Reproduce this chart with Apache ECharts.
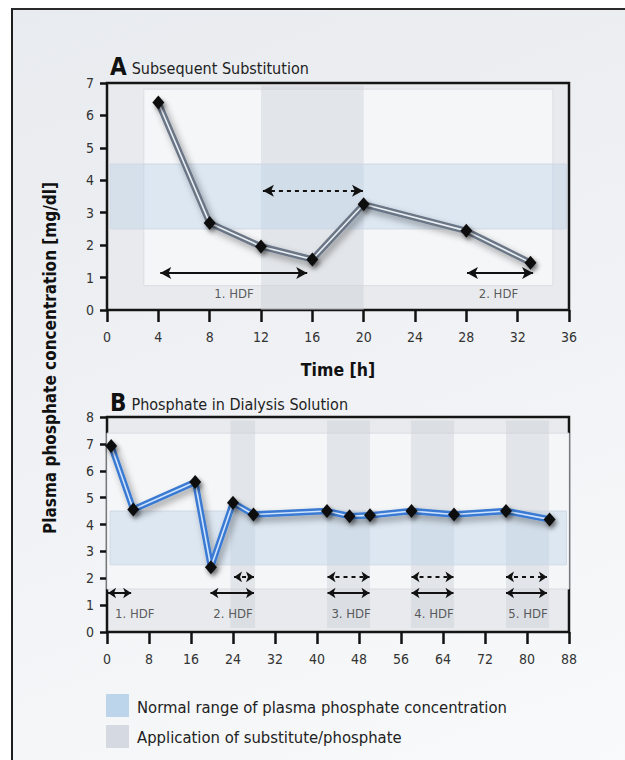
<!DOCTYPE html>
<html><head><meta charset="utf-8">
<script src="https://cdn.jsdelivr.net/npm/echarts@6/dist/echarts.min.js"></script>
<style>
html,body{margin:0;padding:0;background:#fff;overflow:hidden;}
#frame{position:absolute;left:11px;top:8px;width:620px;height:760px;border-left:2px solid #1e1e1e;border-top:2px solid #2a2a2a;background:linear-gradient(160deg,#e8ebef 0%,#eff1f4 45%,#f9fafb 100%);}
#chart{position:absolute;left:0;top:0;width:625px;height:760px;}
</style></head><body>
<div id="frame"></div>
<div id="chart"></div>
<script>
// ---- data (chart A: subsequent substitution) ----
const timeA = [4, 8, 12, 16, 20, 28, 33];
const phosphateA = [6.4, 2.68, 1.96, 1.56, 3.26, 2.44, 1.46];
const substitutionA = [[12, 20]];
const hdfSolidA = [[4.15, 15.6], [28.05, 33.2]];
const hdfDashedA = [[12.15, 19.95]];
const hdfLabelsA = ['1. HDF', '2. HDF'];
const hdfLabelXA = [9.9, 30.5];

// ---- data (chart B: phosphate in dialysis solution) ----
const timeB = [0.8, 5, 16.8, 19.8, 24, 27.9, 41.9, 46.2, 50.1, 58, 66.1, 76, 84.3];
const phosphateB = [6.92, 4.56, 5.58, 2.41, 4.81, 4.37, 4.5, 4.31, 4.34, 4.5, 4.37, 4.5, 4.19];
const substitutionB = [[23.5, 28.2], [41.9, 50.1], [57.9, 66.1], [76, 84.2]];
const hdfSolidB = [[0.2, 4.6], [19.7, 28], [42, 50], [58, 66], [76, 83.8]];
const hdfDashedB = [[24.2, 28], [42, 50], [58, 66], [76, 83.8]];
const hdfLabelsB = ['1. HDF', '2. HDF', '3. HDF', '4. HDF', '5. HDF'];
const hdfLabelXB = [5.3, 24, 46.5, 62.3, 80.2];

// ---- shared ----
const normalRange = [2.5, 4.5];
const axisA = { min: 0, max: 36, step: 4, yMax: 7 };
const axisB = { min: 0, max: 88, step: 8, yMax: 8 };

const NARROW = "'DejaVu Sans Condensed','Liberation Sans Narrow',sans-serif";

const chart = echarts.init(document.getElementById('chart'), null, { renderer: 'svg' });

function xAxisCfg(idx, ax, name) {
  return {
    gridIndex: idx, type: 'value', min: ax.min, max: ax.max, interval: ax.step, offset: 3,
    axisLine: { show: false },
    axisTick: { show: true, length: 12, lineStyle: { width: 2.5, color: '#111' } },
    axisLabel: { margin: 17, fontSize: 14, color: '#333', fontFamily: NARROW },
    splitLine: { show: false },
    name: name || '', nameLocation: 'middle', nameGap: 48,
    nameTextStyle: { fontSize: 17.5, fontWeight: 'bold', color: '#111', fontFamily: NARROW }
  };
}
function yAxisCfg(idx, ax) {
  return {
    gridIndex: idx, type: 'value', min: 0, max: ax.yMax, interval: 1, offset: 3,
    axisLine: { show: false },
    axisTick: { show: true, length: 7, lineStyle: { width: 2.5, color: '#111' } },
    axisLabel: { margin: 10, fontSize: 14, color: '#333', fontFamily: NARROW },
    splitLine: { show: false }
  };
}
function areaItem(x1, y1, x2, y2, color, border) {
  return [{ coord: [x1, y1], itemStyle: { color: color, borderColor: border || 'transparent', borderWidth: border ? 1 : 0 } },
          { coord: [x2, y2] }];
}
function arrowItems(ranges, y, dashed) {
  return ranges.map(r => [
    { coord: [r[0], y], lineStyle: { type: dashed ? [4, 4] : 'solid', width: 2, color: '#111' } },
    { coord: [r[1], y] }
  ]);
}
function seriesFor(idx, times, values, bands, solid, dashed, solidY, dashedY, labels, labelX, labelY, inner, blueX, bandTop, bandBottom, lineColor, innerColor, headSize) {
  const pts = times.map((t, i) => [t, values[i]]);
  const areas = [areaItem(inner[0], inner[1], inner[2], inner[3], '#f5f6f8', '#d9dde2')];
  bands.forEach(b => areas.push(areaItem(b[0], bandBottom, b[1], bandTop, 'rgba(204,209,216,0.45)')));
  areas.push(areaItem(blueX[0], normalRange[0], blueX[1], normalRange[1], 'rgba(186,209,234,0.42)', '#cfd9e5'));
  const arrows = arrowItems(solid, solidY, false).concat(dashed.length ? arrowItems(dashed, dashedY, true) : []);
  return [
    {
      type: 'line', xAxisIndex: idx, yAxisIndex: idx, data: pts, symbol: 'none', z: 3,
      lineStyle: { width: 6.5, color: lineColor, shadowBlur: 7, shadowColor: 'rgba(0,0,0,0.35)', shadowOffsetX: 3, shadowOffsetY: 4 },
      markArea: { silent: true, data: areas },
      markLine: { silent: true, symbol: ['arrow', 'arrow'], symbolSize: headSize, label: { show: false }, data: arrows }
    },
    {
      type: 'line', xAxisIndex: idx, yAxisIndex: idx, data: pts, z: 4,
      symbol: 'diamond', symbolSize: [12, 14],
      itemStyle: { color: '#111', shadowBlur: 4, shadowColor: 'rgba(0,0,0,0.45)', shadowOffsetX: 2, shadowOffsetY: 3 },
      lineStyle: { width: 1.6, color: innerColor }
    },
    {
      type: 'scatter', xAxisIndex: idx, yAxisIndex: idx, z: 5, symbolSize: 0,
      data: labels.map((l, i) => ({ value: [labelX[i], labelY], name: l })),
      label: { show: true, position: 'inside', formatter: p => p.name, fontSize: 13, color: '#333', fontFamily: NARROW }
    }
  ];
}

const titleRich = {
  a: { fontSize: 24, fontWeight: 'bold', color: '#111', fontFamily: NARROW },
  b: { fontSize: 16, fontWeight: 'normal', color: '#222', fontFamily: NARROW, padding: [3, 0, 0, 0] }
};

const option = {
  animation: false,
  backgroundColor: 'transparent',
  title: [
    { left: 105, top: 50, text: '{a|A} {b|Subsequent Substitution}', textStyle: { fontWeight: 'normal', rich: titleRich } },
    { left: 105, top: 386, text: '{a|B} {b|Phosphate in Dialysis Solution}', textStyle: { fontWeight: 'normal', rich: titleRich } }
  ],
  grid: [
    { left: 107, right: 56, top: 83, bottom: 450, show: true, backgroundColor: '#e8eaed', borderColor: '#151515', borderWidth: 2.5 },
    { left: 107, right: 56, top: 417, bottom: 128, show: true, backgroundColor: '#e8eaed', borderColor: '#151515', borderWidth: 2.5 }
  ],
  xAxis: [xAxisCfg(0, axisA, 'Time [h]'), xAxisCfg(1, axisB)],
  yAxis: [yAxisCfg(0, axisA), yAxisCfg(1, axisB)],
  series: [].concat(
    seriesFor(0, timeA, phosphateA, substitutionA, hdfSolidA, hdfDashedA, 1.14, 3.68,
      hdfLabelsA, hdfLabelXA, 0.52, [2.87, 0.75, 34.75, 6.81], [0.25, 35.8], 6.92, 0, '#6b7686', '#e9eef4', [9, 11]),
    seriesFor(1, timeB, phosphateB, substitutionB, hdfSolidB, hdfDashedB, 1.45, 2.05,
      hdfLabelsB, hdfLabelXB, 0.67, [0, 1.6, 88, 7.4], [0.6, 87.5], 7.87, 0.15, '#3a7ad2', '#cfe4ff', [8, 8])
  ),
  graphic: [
    { type: 'text', x: 50, y: 358, rotation: Math.PI / 2,
      style: { text: 'Plasma phosphate concentration [mg/dl]', align: 'center', verticalAlign: 'middle',
               font: "bold 17px 'DejaVu Sans Condensed',sans-serif", fill: '#111' } },
    { type: 'rect', shape: { x: 106, y: 694, width: 23, height: 23 }, style: { fill: '#bcd5ea' } },
    { type: 'text', x: 137, y: 707,
      style: { text: 'Normal range of plasma phosphate concentration', verticalAlign: 'middle',
               font: "16.5px 'DejaVu Sans Condensed',sans-serif", fill: '#222' } },
    { type: 'rect', shape: { x: 106, y: 725, width: 23, height: 23 }, style: { fill: '#d5dae2' } },
    { type: 'text', x: 137, y: 737,
      style: { text: 'Application of substitute/phosphate', verticalAlign: 'middle',
               font: "16.5px 'DejaVu Sans Condensed',sans-serif", fill: '#222' } }
  ]
};
chart.setOption(option);
</script>
</body></html>
